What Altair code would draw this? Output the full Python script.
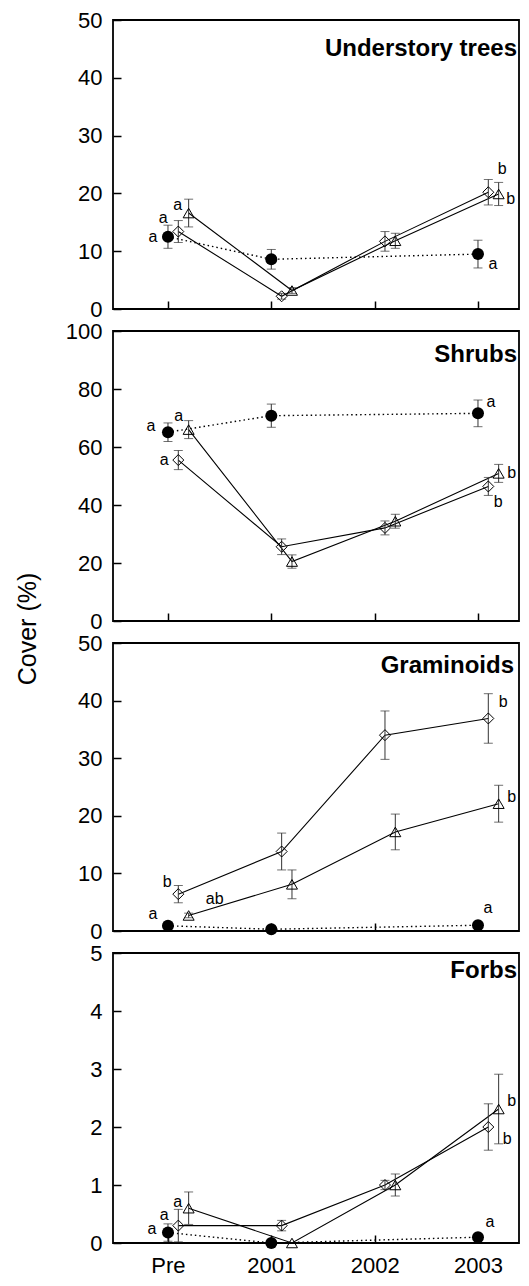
import json
import altair as alt
import pandas as pd

FONT = "Liberation Sans"

YEARS = ["Pre", "2001", "2002", "2003"]
PANELS = ["Understory trees", "Shrubs", "Graminoids", "Forbs"]
Y_MAX = [50, 100, 50, 5]
Y_STEP = [10, 20, 10, 1]
SERIES = ["circle", "diamond", "triangle"]

# ---- Understory trees (mean, SE) ----
TREES_CIRCLE = [12.5, 8.6, None, 9.5]
TREES_CIRCLE_SE = [2.0, 1.7, None, 2.4]
TREES_DIAMOND = [13.4, 2.2, 11.7, 20.2]
TREES_DIAMOND_SE = [1.9, 0.5, 1.7, 2.2]
TREES_TRIANGLE = [16.6, 3.2, 11.8, 19.9]
TREES_TRIANGLE_SE = [2.4, 0.5, 1.3, 2.0]
TREES_LETTERS = {"circle": ["a", "", "", "a"], "diamond": ["a", "", "", "b"], "triangle": ["a", "", "", "b"]}

# ---- Shrubs ----
SHRUBS_CIRCLE = [65.1, 70.8, None, 71.6]
SHRUBS_CIRCLE_SE = [3.2, 4.0, None, 4.6]
SHRUBS_DIAMOND = [55.5, 25.6, 32.1, 46.4]
SHRUBS_DIAMOND_SE = [3.3, 2.7, 2.4, 3.1]
SHRUBS_TRIANGLE = [66.0, 20.5, 34.4, 50.9]
SHRUBS_TRIANGLE_SE = [3.1, 2.3, 2.4, 3.1]
SHRUBS_LETTERS = {"circle": ["a", "", "", "a"], "diamond": ["a", "", "", "b"], "triangle": ["a", "", "", "b"]}

# ---- Graminoids ----
GRAM_CIRCLE = [0.9, 0.3, None, 1.0]
GRAM_CIRCLE_SE = [0.0, 0.0, None, 0.0]
GRAM_DIAMOND = [6.4, 13.8, 34.0, 36.9]
GRAM_DIAMOND_SE = [1.5, 3.2, 4.2, 4.3]
GRAM_TRIANGLE = [2.7, 8.1, 17.2, 22.1]
GRAM_TRIANGLE_SE = [0.4, 2.5, 3.1, 3.2]
GRAM_LETTERS = {"circle": ["a", "", "", "a"], "diamond": ["b", "", "", "b"], "triangle": ["ab", "", "", "b"]}

# ---- Forbs ----
FORBS_CIRCLE = [0.18, 0.0, None, 0.1]
FORBS_CIRCLE_SE = [0.15, 0.0, None, 0.0]
FORBS_DIAMOND = [0.3, 0.3, 1.0, 2.0]
FORBS_DIAMOND_SE = [0.28, 0.09, 0.08, 0.4]
FORBS_TRIANGLE = [0.6, 0.0, 1.0, 2.31]
FORBS_TRIANGLE_SE = [0.28, 0.0, 0.19, 0.6]
FORBS_LETTERS = {"circle": ["a", "", "", "a"], "diamond": ["a", "", "", "b"], "triangle": ["a", "", "", "b"]}

PANEL_DATA = [
    {"circle": (TREES_CIRCLE, TREES_CIRCLE_SE), "diamond": (TREES_DIAMOND, TREES_DIAMOND_SE),
     "triangle": (TREES_TRIANGLE, TREES_TRIANGLE_SE), "letters": TREES_LETTERS},
    {"circle": (SHRUBS_CIRCLE, SHRUBS_CIRCLE_SE), "diamond": (SHRUBS_DIAMOND, SHRUBS_DIAMOND_SE),
     "triangle": (SHRUBS_TRIANGLE, SHRUBS_TRIANGLE_SE), "letters": SHRUBS_LETTERS},
    {"circle": (GRAM_CIRCLE, GRAM_CIRCLE_SE), "diamond": (GRAM_DIAMOND, GRAM_DIAMOND_SE),
     "triangle": (GRAM_TRIANGLE, GRAM_TRIANGLE_SE), "letters": GRAM_LETTERS},
    {"circle": (FORBS_CIRCLE, FORBS_CIRCLE_SE), "diamond": (FORBS_DIAMOND, FORBS_DIAMOND_SE),
     "triangle": (FORBS_TRIANGLE, FORBS_TRIANGLE_SE), "letters": FORBS_LETTERS},
]

# ---- style / layout ----
W = 406
HEIGHTS = [289, 290, 288, 290]
X_DOMAIN = [-0.532, 3.397]
DODGE = {"circle": 0.0, "diamond": 0.1, "triangle": 0.2}
TITLE_BASE = [36, 31, 30, 25]
TITLE_INSET = [2, 2, 5, 2]
LABEL_OFFSETS = [
    {("circle", 0): (-15, 0), ("diamond", 0): (-15, -14), ("triangle", 0): (-11, -8),
     ("circle", 3): (15, 10), ("diamond", 3): (14, -23), ("triangle", 3): (12, 5)},
    {("circle", 0): (-17, -6), ("diamond", 0): (-14, 0), ("triangle", 0): (-10, -14),
     ("circle", 3): (13, -11), ("diamond", 3): (10, 16), ("triangle", 3): (13, 0)},
    {("circle", 0): (-15, -12), ("diamond", 0): (-11, -12), ("triangle", 0): (26, -16),
     ("circle", 3): (10, -17), ("diamond", 3): (15, -16), ("triangle", 3): (13, -7)},
    {("circle", 0): (-16, -4), ("diamond", 0): (-14, -11), ("triangle", 0): (-11, -6),
     ("circle", 3): (12, -15), ("diamond", 3): (19, 12), ("triangle", 3): (13, -8)},
]

LABEL_EXPR = json.dumps(YEARS).replace('"', "'") + "[datum.value]"


def series_frame(i, s):
    vals, ses = PANEL_DATA[i][s]
    rows = []
    for k, (v, e) in enumerate(zip(vals, ses)):
        if v is None:
            continue
        rows.append({"xi": k, "x": k + DODGE[s], "v": v, "e": e,
                     "lo": max(0.0, v - e), "hi": v + e})
    return pd.DataFrame(rows)


def panel(i, last):
    x_axis = alt.Axis(values=[0, 1, 2, 3], labelExpr=LABEL_EXPR, labels=last, title=None,
                      grid=False, domain=False, offset=-8, tickSize=8, tickWidth=1.5,
                      tickColor="black", labelFontSize=22, labelFont=FONT,
                      labelColor="black", labelPadding=12)
    y_axis = alt.Axis(values=list(range(0, Y_MAX[i] + 1, Y_STEP[i])), title=None, grid=False,
                      domain=False, offset=-8, tickSize=8, tickWidth=1.5, tickColor="black",
                      labelFontSize=22, labelFont=FONT, labelColor="black", labelPadding=11)
    xs = alt.Scale(domain=X_DOMAIN, nice=False, zero=False)
    ys = alt.Scale(domain=[0, Y_MAX[i]], nice=False, zero=True)

    def X(f="x"):
        return alt.X(f + ":Q", scale=xs, axis=x_axis)

    def Y(f="v"):
        return alt.Y(f + ":Q", scale=ys, axis=y_axis)

    layers = []
    frames = {s: series_frame(i, s) for s in SERIES}
    # lines
    for s in SERIES:
        df = frames[s]
        if s == "circle":
            m = alt.Chart(df).mark_line(color="black", strokeWidth=1.4, strokeDash=[1.5, 3])
        else:
            m = alt.Chart(df).mark_line(color="black", strokeWidth=1.1)
        layers.append(m.encode(x=X(), y=Y(), order="x:Q"))
    # error bars
    for s in SERIES:
        df = frames[s]
        df = df[df["e"] > 0]
        if len(df) == 0:
            continue
        c = alt.Chart(df)
        layers.append(c.mark_rule(color="#333333", strokeWidth=1).encode(x=X(), y=Y("lo"), y2="hi:Q"))
        layers.append(c.mark_tick(color="#333333", orient="horizontal", size=9, thickness=1)
                      .encode(x=X(), y=Y("lo")))
        layers.append(c.mark_tick(color="#333333", orient="horizontal", size=9, thickness=1)
                      .encode(x=X(), y=Y("hi")))
    # points
    for s in SERIES:
        df = frames[s]
        c = alt.Chart(df)
        if s == "circle":
            m = c.mark_point(shape="circle", filled=True, size=144, color="black", opacity=1)
        elif s == "diamond":
            m = c.mark_point(shape="diamond", filled=False, size=121, color="black",
                             strokeWidth=1, opacity=1)
        else:
            m = c.mark_point(shape="triangle-up", filled=False, size=121, color="black",
                             strokeWidth=1, opacity=1)
        layers.append(m.encode(x=X(), y=Y()))
    # letters
    for s in SERIES:
        df = frames[s]
        letters = PANEL_DATA[i]["letters"][s]
        for _, r in df.iterrows():
            k = int(r["xi"])
            if not letters[k]:
                continue
            dx, dy = LABEL_OFFSETS[i][(s, k)]
            ldf = pd.DataFrame([{"x": r["x"], "v": r["v"], "t": letters[k]}])
            layers.append(alt.Chart(ldf).mark_text(dx=dx, dy=dy, fontSize=16, font=FONT,
                                                   color="black", align="center",
                                                   baseline="middle")
                          .encode(x=X(), y=Y(), text="t:N"))
    # panel title
    layers.append(alt.Chart(pd.DataFrame({"t": [PANELS[i]]}))
                  .mark_text(align="right", baseline="alphabetic", fontSize=24,
                             fontWeight="bold", font=FONT, color="black")
                  .encode(text="t:N", x=alt.value(W - TITLE_INSET[i]), y=alt.value(TITLE_BASE[i])))
    if i == 2:
        layers.append(alt.Chart(pd.DataFrame({"t": ["Cover (%)"]}))
                      .mark_text(align="center", baseline="middle", fontSize=25, angle=270,
                                 font=FONT, color="black")
                      .encode(text="t:N", x=alt.value(-85), y=alt.value(-14)))
    return alt.layer(*layers).properties(width=W, height=HEIGHTS[i])


chart = alt.vconcat(*[panel(i, i == 3) for i in range(4)], spacing=22, bounds="flush").properties(
    padding={"left": 7, "top": 0, "right": 0, "bottom": 0}
).configure(
    background="white",
    view=alt.ViewConfig(stroke="black", strokeWidth=1.8),
)

chart.save("out.html", embed_options={"renderer": "svg", "actions": False})
